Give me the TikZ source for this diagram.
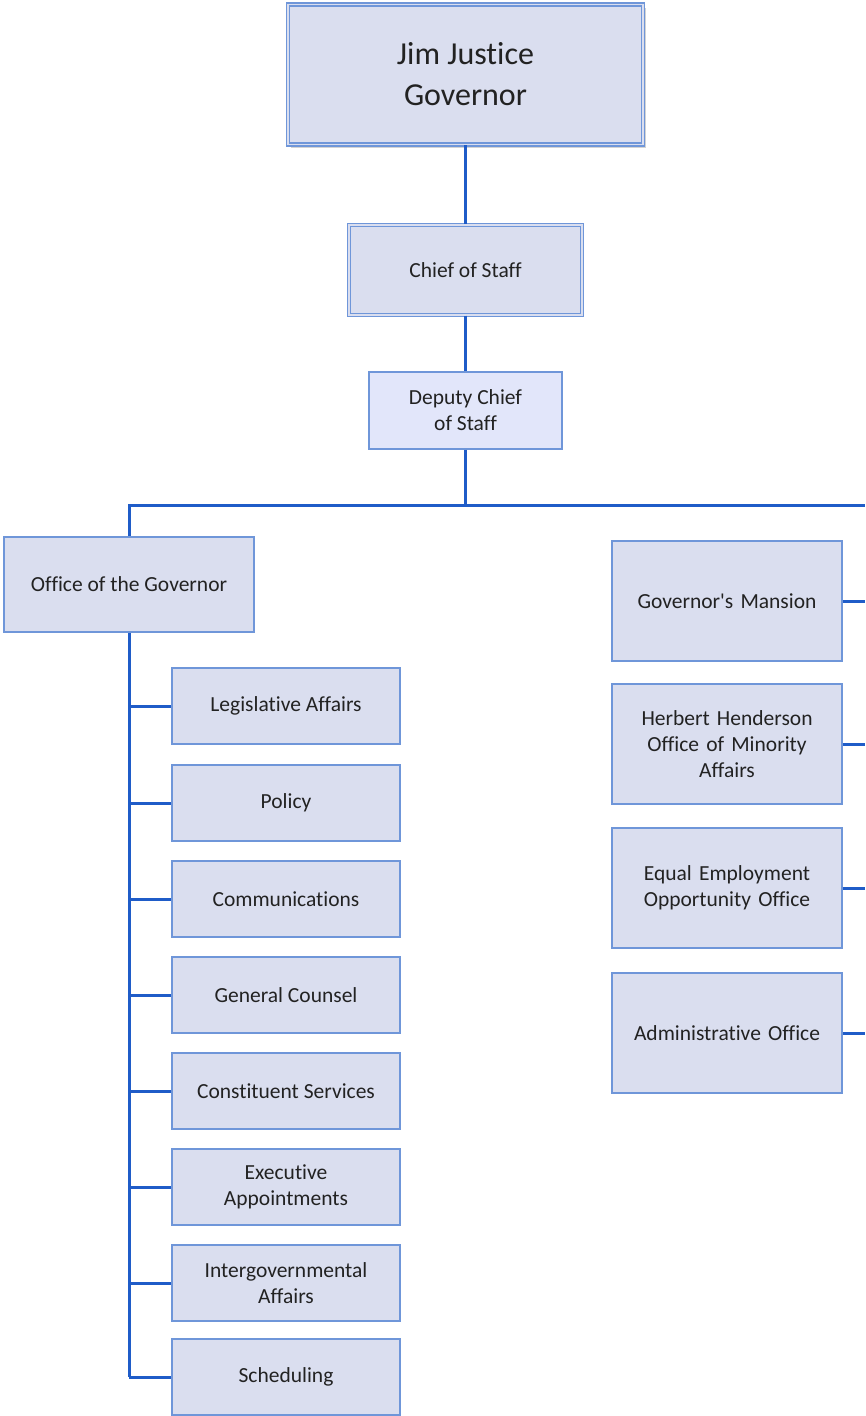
\documentclass[tikz,border=0pt]{standalone}
\usepackage{fontspec}
\setmainfont{Carlito}[Ligatures={NoCommon}]
\usetikzlibrary{shadows}
\definecolor{conn}{HTML}{1F5CC8}
\definecolor{bord}{HTML}{6F96D9}
\definecolor{boxfill}{HTML}{DADEEF}
\definecolor{depfill}{HTML}{E2E6FA}
\definecolor{txt}{HTML}{222222}
\tikzset{
  unit/.style={draw=bord, fill=boxfill, line width=1.8pt, inner sep=2pt, align=center, text=txt,
    font=\fontsize{21.5}{26}\selectfont},
  dbl/.style={unit, double=boxfill, double distance=1.8pt, line width=1.3pt},
  child/.style={unit, minimum width=228pt, minimum height=76pt},
  rchild/.style={unit, minimum width=230pt, minimum height=120pt, text width=220pt},
  link/.style={draw=conn, line width=3pt},
}
\begin{document}
\begin{tikzpicture}[x=1pt,y=-1pt]
\useasboundingbox (0,0) rectangle (865,1416);
% nodes
\node[dbl, minimum width=355pt, minimum height=140pt, font=\fontsize{32}{41}\selectfont,
  drop shadow={shadow xshift=3pt, shadow yshift=-3pt, opacity=.35}] (gov) at (465.5,74.5) {Jim Justice\\Governor};
\node[dbl, minimum width=233pt, minimum height=90pt] (cos) at (465.5,270) {Chief of Staff};
\node[unit, fill=depfill, minimum width=193pt, minimum height=77pt] (dcos) at (465.5,410.5) {Deputy Chief\\of Staff};
\node[unit, minimum width=250pt, minimum height=95pt] (og) at (129,584.5) {Office of the Governor};
\node[child] (c1) at (286,706) {Legislative Affairs};
\node[child] (c2) at (286,803) {Policy};
\node[child] (c3) at (286,899) {Communications};
\node[child] (c4) at (286,995) {General Counsel};
\node[child] (c5) at (286,1091) {Constituent Services};
\node[child] (c6) at (286,1187) {Executive\\Appointments};
\node[child] (c7) at (286,1283) {Intergovernmental\\Affairs};
\node[child] (c8) at (286,1377) {Scheduling};
\node[rchild] (r1) at (727,601) {Governor\textquotesingle s Mansion};
\node[rchild] (r2) at (727,744) {Herbert Henderson\\Office of Minority\\Affairs};
\node[rchild] (r3) at (727,888) {Equal Employment\\Opportunity Office};
\node[rchild] (r4) at (727,1033) {Administrative Office};
\coordinate (bus) at (465.5,505);
\coordinate (rt) at (865,505);
\coordinate (spine) at (129,1377);
% connectors
\draw[link] (gov.south) -- (cos.north);
\draw[link] (cos.south) -- (dcos.north);
\draw[link] (dcos.south) -- (bus);
\draw[link] (og.north) |- (rt);
\draw[link] (og.south) -- (spine);
\foreach \c in {c1,c2,c3,c4,c5,c6,c7,c8}{
  \draw[link] (\c.west -| og.south) -- (\c.west);
}
\foreach \r in {r1,r2,r3,r4}{
  \draw[link] (\r.east) -- (\r.east -| rt);
}
\end{tikzpicture}
\end{document}
